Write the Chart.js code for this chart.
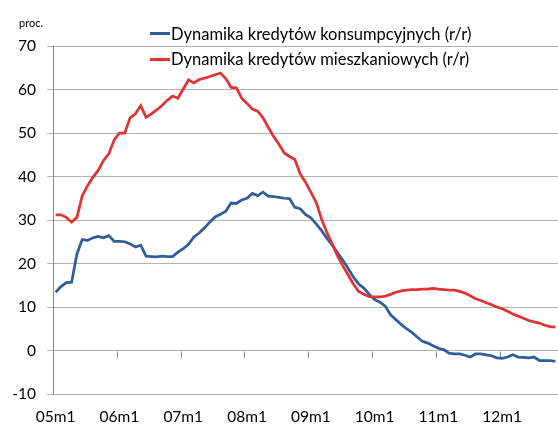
<!DOCTYPE html>
<html>
<head>
<meta charset="utf-8">
<script src="https://cdn.jsdelivr.net/npm/chart.js@4.4.1/dist/chart.umd.min.js"></script>
<style>
  html, body { margin: 0; padding: 0; background: #ffffff; }
  #wrap { position: relative; width: 558px; height: 426px; overflow: hidden; font-family: 'Lato', sans-serif; color: #000; }
  #c { position: absolute; left: 0; top: 0; }
  #unit { position: absolute; left: 19px; top: 16px; font-size: 11px; line-height: 14px; }
  #legend { position: absolute; left: 150px; top: 21px; }
  .row { display: flex; align-items: center; height: 25.5px; font-size: 16.5px; letter-spacing: 0; white-space: nowrap; }
  .sw { width: 20px; height: 3px; margin-right: 1px; }
</style>
</head>
<body>
<div id="wrap">
  <canvas id="c" width="558" height="426"></canvas>
  <div id="unit">proc.</div>
  <div id="legend"></div>
</div>
<script>
// Categories: monthly, 2005m1 .. 2012m11
const years = ['05','06','07','08','09','10','11','12'];
const months = [1,2,3,4,5,6,7,8,9,10,11,12];
const categories = [];
years.forEach(y => months.forEach(m => categories.push(y + 'm' + m)));
categories.length = 95;

const seriesNames = [
  'Dynamika kredytów konsumpcyjnych (r/r)',
  'Dynamika kredytów mieszkaniowych (r/r)'
];

const konsumpcyjne = [
  13.4, 14.7, 15.6, 15.7, 22.2, 25.5, 25.3, 25.9, 26.2, 25.9, 26.4, 25.1,
  25.1, 25.0, 24.5, 23.8, 24.2, 21.7, 21.6, 21.5, 21.7, 21.6, 21.6, 22.6,
  23.4, 24.4, 26.1, 27.0, 28.2, 29.5, 30.7, 31.3, 32.0, 33.9, 33.8, 34.6,
  35.0, 36.1, 35.6, 36.4, 35.5, 35.4, 35.2, 35.0, 34.9, 32.9, 32.6, 31.3,
  30.5, 29.1, 27.6, 25.8, 24.3, 22.5, 20.8, 18.9, 16.9, 15.3, 14.3, 12.9,
  11.7, 11.1, 10.2, 8.2, 7.1, 6.0, 5.0, 4.2, 3.1, 2.1, 1.7, 1.1,
  0.5, 0.2, -0.6, -0.8, -0.8, -1.1, -1.5, -0.8, -0.8, -1.0, -1.2, -1.7,
  -1.8, -1.5, -1.0, -1.5, -1.6, -1.7, -1.5, -2.3, -2.3, -2.3, -2.5
];

const mieszkaniowe = [
  31.2, 31.2, 30.6, 29.5, 30.6, 35.6, 37.9, 39.8, 41.4, 43.7, 45.2, 48.4,
  50.0, 50.0, 53.5, 54.4, 56.3, 53.6, 54.4, 55.3, 56.3, 57.5, 58.5, 58.0,
  60.1, 62.2, 61.5, 62.3, 62.6, 63.0, 63.4, 63.8, 62.5, 60.5, 60.4, 58.0,
  56.8, 55.5, 55.0, 53.5, 51.3, 49.2, 47.4, 45.4, 44.6, 43.9, 40.6, 38.7,
  36.4, 34.1, 30.3, 27.2, 24.5, 21.8, 19.5, 17.4, 15.3, 13.6, 12.9, 12.4,
  12.3, 12.3, 12.5, 12.9, 13.4, 13.7, 13.9, 14.0, 14.0, 14.1, 14.1, 14.3,
  14.1, 14.0, 13.9, 13.9, 13.6, 13.2, 12.6, 11.9, 11.5, 11.0, 10.5, 10.0,
  9.6, 9.0, 8.4, 7.9, 7.4, 6.9, 6.6, 6.3, 5.8, 5.5, 5.4
];

const yTicks = [-10, 0, 10, 20, 30, 40, 50, 60, 70];
const colors = ['#2F5E9A', '#E03434'];

const gridColor = '#B4B4B4';
const axisColor = '#8A8A8A';
const tickFont = { family: 'Lato', size: 15.5 };

// Category-boundary tick marks hanging below the zero line, every 12 months
const zeroLineTicks = {
  id: 'zeroLineTicks',
  beforeDatasetsDraw(chart) {
    const xs = chart.scales.x, ys = chart.scales.y, ctx = chart.ctx;
    const y0 = Math.round(ys.getPixelForValue(0)) + 0.5;
    ctx.save();
    ctx.strokeStyle = axisColor;
    ctx.lineWidth = 1;
    ctx.beginPath();
    for (let i = 12; i < categories.length; i += 12) {
      const px = Math.round((xs.getPixelForValue(i - 1) + xs.getPixelForValue(i)) / 2) + 0.5;
      ctx.moveTo(px, y0);
      ctx.lineTo(px, y0 + 6);
    }
    ctx.stroke();
    ctx.restore();
  }
};

const chart = new Chart(document.getElementById('c'), {
  type: 'line',
  data: {
    labels: categories,
    datasets: [
      { label: seriesNames[0], data: konsumpcyjne, borderColor: colors[0], backgroundColor: colors[0],
        borderWidth: 2.75, pointRadius: 0, tension: 0, order: 1 },
      { label: seriesNames[1], data: mieszkaniowe, borderColor: colors[1], backgroundColor: colors[1],
        borderWidth: 2.75, pointRadius: 0, tension: 0, order: 0 }
    ]
  },
  options: {
    responsive: false,
    animation: false,
    devicePixelRatio: 1,
    layout: { padding: { top: 46, right: 0, bottom: 0, left: 0 } },
    plugins: { legend: { display: false }, tooltip: { enabled: false }, title: { display: false } },
    scales: {
      x: {
        type: 'category',
        position: 'bottom',
        offset: true,
        grid: { display: false },
        border: { display: false },
        ticks: {
          autoSkip: false, maxRotation: 0, minRotation: 0, padding: 6,
          color: '#000', font: tickFont,
          callback: function (v, i) { return i % 12 === 0 ? categories[i] : ''; }
        },
        afterFit: function (s) { s.height = 32; s.paddingRight = 0; s.paddingLeft = 0; }
      },
      y: {
        min: -10, max: 70,
        afterBuildTicks: function (s) { s.ticks = yTicks.map(v => ({ value: v })); },
        grid: { color: gridColor, lineWidth: 1, drawTicks: true, tickLength: 6 },
        border: { display: true, color: axisColor, width: 1 },
        ticks: { color: '#000', font: tickFont, padding: 11 },
        afterFit: function (s) { s.width = 53; }
      }
    }
  },
  plugins: [zeroLineTicks]
});

// HTML legend built from dataset labels/colours
const leg = document.getElementById('legend');
chart.data.datasets.forEach(ds => {
  const row = document.createElement('div');
  row.className = 'row';
  const sw = document.createElement('span');
  sw.className = 'sw';
  sw.style.background = ds.borderColor;
  const tx = document.createElement('span');
  tx.textContent = ds.label;
  row.appendChild(sw); row.appendChild(tx);
  leg.appendChild(row);
});
</script>
</body>
</html>
